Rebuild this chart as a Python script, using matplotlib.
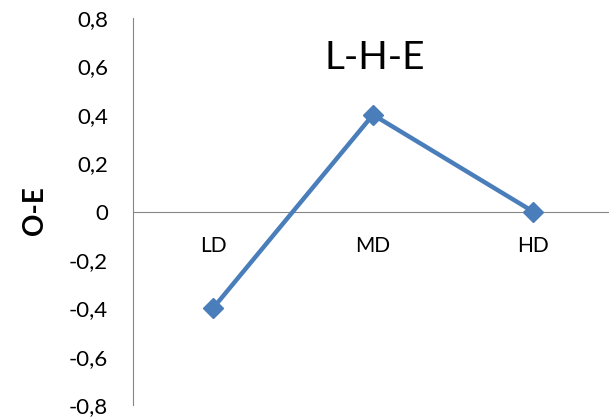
import matplotlib.pyplot as plt
from matplotlib.ticker import FuncFormatter

categories = ["LD", "MD", "HD"]
values = [-0.4, 0.4, 0.0]
y_ticks = [-0.8, -0.6, -0.4, -0.2, 0.0, 0.2, 0.4, 0.6, 0.8]

plt.rcParams["font.family"] = ["Lato", "DejaVu Sans"]

W, H = 609, 418
fig = plt.figure(figsize=(W / 100, H / 100), dpi=100)
ax = fig.add_axes([133 / W, (H - 405) / H, (W - 133) / W, (405 - 18) / H])

ax.plot(range(len(categories)), values, color="#4a7ebb", lw=3.2,
        marker="D", ms=10, mfc="#4a7ebb", mec="#4a7ebb", zorder=3)

ax.set_xlim(-0.5, 2.475)
ax.set_ylim(-0.8, 0.8)
ax.set_yticks(y_ticks)
ax.yaxis.set_major_formatter(
    FuncFormatter(lambda v, _: "0" if abs(v) < 1e-9 else f"{v:.1f}".replace(".", ",")))
ax.set_xticks(range(len(categories)))
ax.set_xticklabels(categories)

for s in ["top", "right"]:
    ax.spines[s].set_visible(False)
ax.spines["left"].set_color("#868686")
ax.spines["bottom"].set_color("#868686")
ax.spines["bottom"].set_position(("data", 0))
ax.tick_params(axis="y", length=0, pad=18, labelsize=16)
ax.tick_params(axis="x", length=0, pad=18, labelsize=15)

fig.text(375 / W, (H - 58) / H, "L-H-E", fontsize=28, ha="center", va="center")
fig.text(35 / W, (H - 211) / H, "O-E", fontsize=20, fontweight="bold",
         rotation=90, ha="center", va="center")

fig.savefig("out.png", dpi=100)
